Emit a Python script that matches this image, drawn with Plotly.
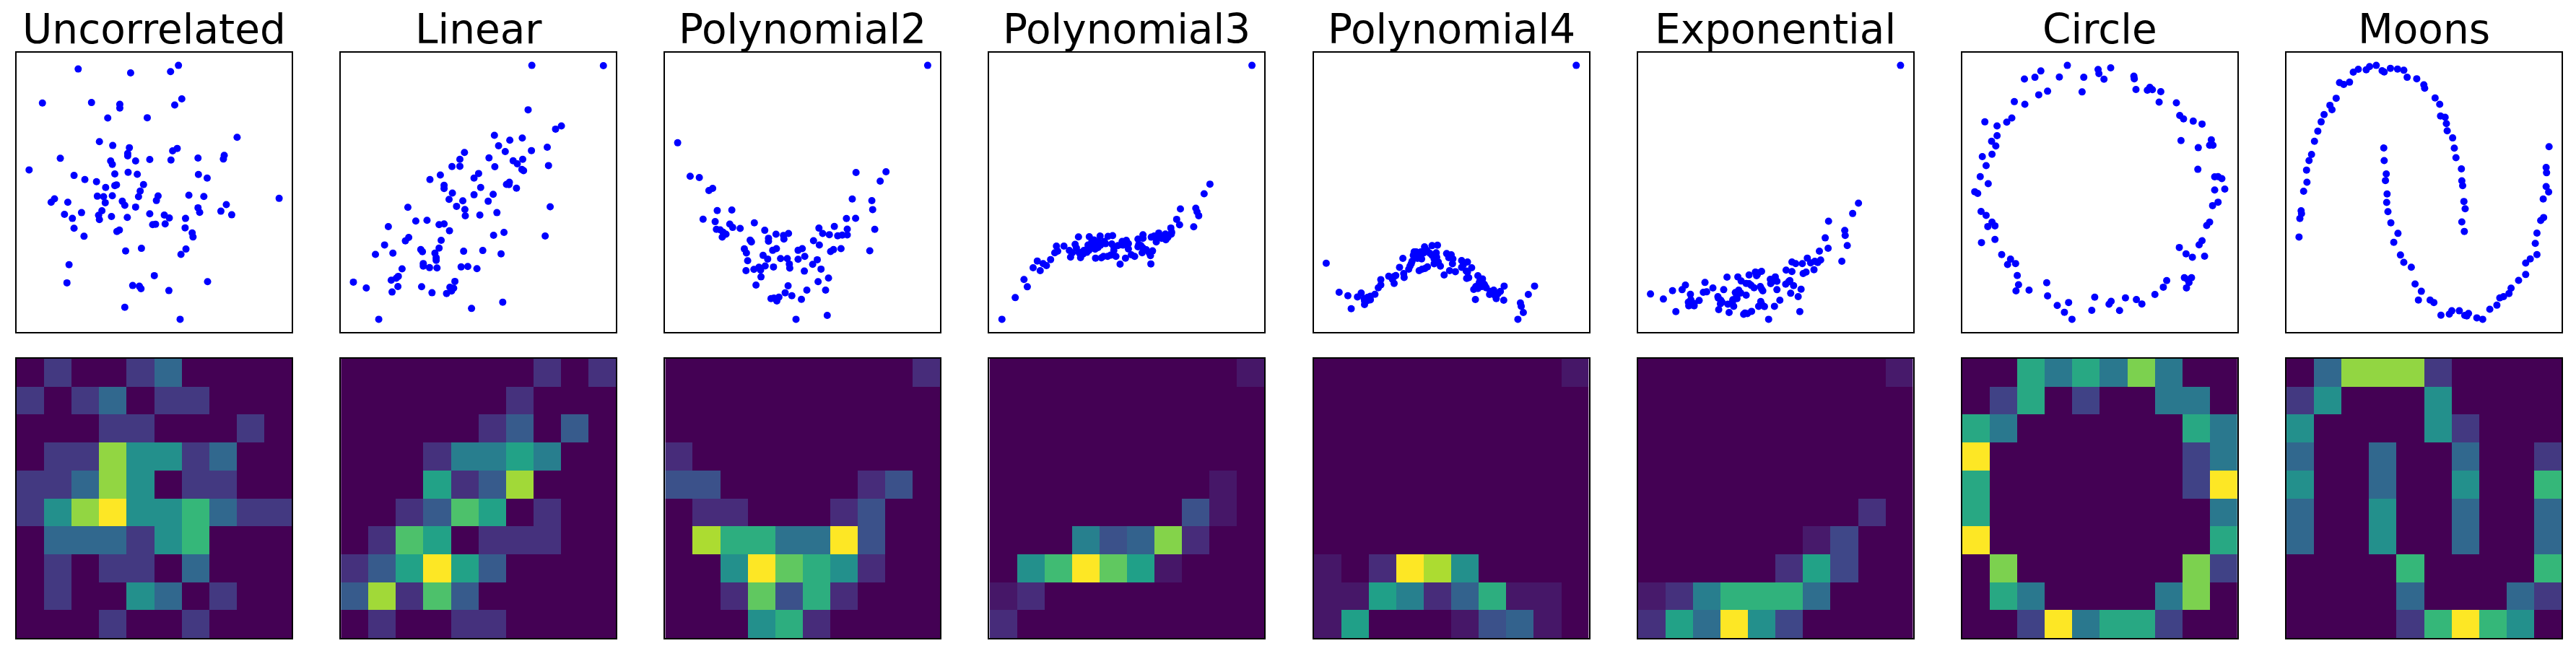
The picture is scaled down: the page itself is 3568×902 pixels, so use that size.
import numpy as np
import plotly.graph_objects as go
from plotly.subplots import make_subplots

names = ["Uncorrelated", "Linear", "Polynomial2", "Polynomial3",
         "Polynomial4", "Exponential", "Circle", "Moons"]

# point readings from the picture, (across, down), arbitrary units
uncorrelated = [(189,288),(315,304),(411,299),(430,273),(103,429),(221,427),(289,434),(289,450),(421,437),(438,412),(260,491),(355,490),(571,571),(240,589),(272,605),(312,614),(427,617),(416,627),(308,638),(308,648),(540,646),(538,661),(146,658),(267,669),(271,683),(327,669),(361,663),(412,665),(477,657),(71,706),(277,723),(309,716),(331,724),(478,725),(499,740),(179,729),(205,746),(233,755),(346,767),(281,768),(277,771),(255,779),(338,794),(672,824),(132,826),(124,840),(164,840),(235,815),(250,817),(271,813),(334,817),(381,814),(377,833),(455,811),(491,816),(295,836),(254,842),(301,853),(327,860),(545,850),(477,863),(481,882),(246,875),(532,877),(558,892),(156,890),(197,883),(238,894),(240,912),(269,899),(307,903),(361,888),(396,893),(408,905),(447,907),(175,907),(179,948),(203,981),(288,955),(282,961),(368,933),(375,931),(398,930),(446,946),(463,967),(465,984),(303,1042),(341,1031),(448,1034),(436,1056),(167,1099),(372,1144),(162,1174),(320,1185),(336,1188),(340,1198),(407,1206),(500,1169),(301,1275),(434,1325)]
linear = [(1283,273),(1455,274),(1274,457),(1354,524),(1340,537),(1193,563),(1230,583),(1260,574),(1203,606),(1320,612),(1282,626),(1219,630),(1121,634),(1180,656),(1110,662),(1261,662),(1238,668),(1248,681),(1091,692),(1110,691),(1194,693),(1323,688),(1259,704),(1263,709),(1155,721),(1063,727),(1144,740),(1038,746),(1229,757),(1222,766),(1228,767),(1072,770),(1072,783),(1160,779),(1246,782),(1092,802),(1190,807),(1144,809),(1084,828),(1117,834),(1178,836),(1102,857),(985,861),(1327,859),(1122,870),(1199,883),(1123,896),(1158,893),(1004,918),(1031,915),(1072,930),(1060,933),(938,941),(1085,958),(1216,965),(1191,977),(1315,980),(987,986),(979,1000),(1065,998),(929,1017),(1060,1030),(1016,1036),(1020,1045),(1119,1043),(1165,1040),(1209,1054),(907,1056),(949,1051),(1050,1051),(1053,1070),(1053,1081),(1022,1094),(1022,1105),(1037,1111),(1055,1112),(1113,1108),(1129,1106),(1151,1115),(971,1116),(962,1147),(957,1155),(945,1163),(1098,1168),(854,1171),(885,1195),(961,1189),(1018,1190),(1086,1192),(1095,1196),(1090,1208),(1078,1218),(947,1212),(1043,1215),(1213,1254),(1138,1280),(915,1325)]
polynomial2 = [(669,273),(69,594),(99,733),(121,738),(153,783),(144,792),(497,717),(569,714),(555,753),(488,827),(535,834),(537,871),(164,875),(199,873),(474,908),(496,907),(130,911),(159,921),(194,931),(201,945),(219,949),(253,926),(162,953),(171,955),(278,957),(445,941),(408,948),(476,952),(542,953),(178,965),(185,973),(176,985),(305,973),(335,970),(323,978),(324,993),(287,990),(287,1002),(417,970),(433,975),(453,980),(464,977),(476,976),(243,998),(246,1005),(395,1000),(409,1018),(229,1034),(234,1051),(297,1040),(306,1033),(358,1040),(368,1033),(461,1033),(436,1045),(443,1037),(530,1042),(274,1061),(285,1076),(237,1083),(316,1074),(332,1074),(374,1065),(358,1077),(404,1079),(393,1098),(279,1105),(264,1110),(299,1109),(337,1097),(338,1114),(252,1119),(268,1122),(233,1124),(269,1150),(373,1126),(413,1118),(431,1155),(406,1170),(257,1184),(334,1187),(379,1205),(424,1205),(327,1216),(343,1228),(293,1240),(300,1238),(312,1234),(307,1250),(366,1243),(353,1326),(428,1310)]
polynomial3 = [(1452,272),(1351,765),(1337,805),(1280,868),(1317,865),(1320,880),(1324,896),(1271,911),(1278,934),(1312,942),(1257,947),(1259,965),(1228,968),(1190,975),(1258,973),(1217,980),(1244,972),(1035,984),(1061,983),(1087,980),(1106,982),(1117,979),(1178,993),(1190,990),(1245,996),(1228,985),(1222,1005),(1072,997),(1067,1005),(1140,1003),(1150,998),(1155,1012),(1000,1022),(1027,1015),(1058,1018),(1079,1010),(1100,1012),(1115,1013),(1142,1018),(1178,1025),(1190,1030),(982,1022),(1120,1025),(1082,1028),(1058,1030),(1048,1040),(1013,1040),(1155,1034),(1198,1037),(978,1050),(985,1043),(1020,1050),(1036,1048),(1055,1048),(1213,1042),(1188,1050),(1208,1062),(1162,1058),(1016,1068),(1040,1070),(1076,1072),(1090,1071),(1112,1060),(1125,1065),(1148,1072),(968,1078),(936,1084),(1135,1097),(1209,1096),(950,1095),(958,1103),(926,1112),(943,1124),(904,1161),(912,1191),(883,1236),(851,1326),(1075,1000),(1088,1018),(1097,1003),(1068,1022),(1046,1055),(1130,1020),(1040,1060),(1105,1065),(1180,1015),(1185,1020),(1210,985),(1235,990),(1250,985),(1240,985),(1060,1040),(1075,1035),(1150,1010),(1095,1065),(1205,1050),(1120,1040),(1085,1005),(1030,1030),(1170,1065)]
polynomial4 = [(666,271),(66,1093),(97,1214),(118,1228),(126,1282),(141,1233),(150,1217),(157,1240),(158,1265),(165,1248),(172,1245),(183,1222),(191,1195),(197,1183),(197,1161),(216,1147),(229,1148),(233,1144),(229,1177),(252,1136),(253,1152),(242,1110),(250,1073),(264,1118),(267,1105),(272,1085),(277,1046),(282,1046),(293,1046),(295,1075),(285,1073),(289,1124),(296,1118),(303,1115),(309,1108),(302,1025),(320,1020),(333,1018),(315,1052),(330,1050),(331,1068),(325,1095),(340,1105),(349,1142),(355,1053),(366,1058),(370,1075),(369,1095),(362,1124),(376,1128),(391,1082),(405,1088),(391,1110),(402,1125),(415,1112),(403,1156),(408,1153),(430,1145),(441,1158),(433,1175),(447,1187),(420,1202),(430,1198),(458,1223),(468,1205),(484,1210),(493,1188),(470,1225),(474,1240),(424,1244),(492,1247),(532,1258),(534,1272),(539,1298),(526,1326),(551,1223),(566,1188),(270,1095),(300,1050),(320,1060),(450,1195),(440,1190),(465,1215),(478,1220),(165,1235),(158,1250),(275,1060),(290,1052),(308,1040),(325,1075),(335,1088),(360,1070),(395,1100),(405,1130),(435,1165),(445,1180),(425,1190),(460,1210),(172,1230),(225,1160)]
exponential = [(1449,272),(1348,844),(1334,887),(1276,919),(1315,957),(1316,978),(1268,988),(1321,1020),(1275,1031),(1254,1043),(1225,1072),(1257,1080),(1243,1085),(1233,1092),(1188,1088),(1197,1095),(1213,1095),(1308,1085),(1241,1120),(1222,1130),(1215,1136),(1174,1122),(1188,1128),(1115,1127),(1104,1132),(1103,1145),(1085,1142),(1032,1151),(1058,1150),(1066,1167),(1136,1160),(1148,1150),(1152,1168),(1137,1178),(1183,1165),(1173,1180),(1192,1186),(979,1173),(932,1184),(924,1203),(901,1207),(998,1196),(1024,1203),(1078,1177),(1085,1178),(1097,1195),(1112,1190),(1118,1208),(1152,1203),(1210,1201),(1185,1218),(1203,1232),(848,1221),(944,1222),(975,1214),(983,1212),(1052,1215),(1065,1217),(1078,1226),(879,1242),(1011,1238),(1017,1247),(939,1255),(965,1248),(953,1260),(940,1270),(953,1270),(1046,1245),(1056,1240),(1034,1263),(1016,1262),(1048,1272),(1113,1252),(1159,1247),(1108,1272),(1122,1273),(1146,1272),(1012,1286),(1037,1298),(909,1294),(1207,1294),(1072,1305),(1081,1302),(1091,1293),(1132,1326),(1010,1232),(1020,1255),(945,1245),(1115,1200),(1140,1170),(1180,1170),(1250,1090),(1060,1205),(1045,1255),(1075,1300),(1115,1262),(1055,1232),(1105,1140),(1090,1185),(1100,1130)]
circle = [(342,278),(445,288),(415,295),(417,312),(429,335),(279,301),(265,327),(240,334),(323,326),(381,327),(500,322),(501,333),(505,377),(538,368),(532,380),(544,378),(564,386),(377,387),(295,384),(274,399),(216,427),(241,438),(560,429),(601,432),(609,484),(618,498),(641,507),(662,519),(210,494),(198,511),(146,510),(175,527),(175,567),(162,590),(172,609),(684,584),(680,606),(688,606),(612,587),(653,616),(163,643),(140,653),(149,690),(652,705),(135,735),(154,764),(692,736),(700,735),(709,743),(122,797),(129,804),(692,790),(716,786),(700,840),(687,854),(137,878),(149,894),(680,922),(673,936),(163,922),(153,940),(170,937),(170,993),(138,1006),(662,998),(655,1015),(608,1026),(624,1052),(639,1066),(668,1062),(186,1055),(207,1074),(219,1092),(200,1096),(223,1141),(620,1150),(637,1150),(628,1158),(631,1170),(578,1162),(625,1192),(570,1189),(226,1179),(220,1204),(251,1201),(293,1171),(295,1225),(550,1219),(407,1230),(480,1233),(506,1240),(519,1258),(446,1247),(441,1259),(345,1252),(318,1264),(335,1292),(400,1284),(466,1285),(353,1321)]
moons = [(1086,278),(1070,283),(1062,296),(1043,294),(1031,306),(1100,300),(1105,305),(1120,290),(1137,293),(1152,298),(1160,327),(1183,333),(1200,358),(1202,372),(1022,347),(998,349),(1008,356),(990,413),(975,442),(980,460),(961,480),(954,510),(946,548),(938,590),(931,644),(925,669),(919,708),(920,758),(912,795),(906,875),(907,887),(903,907),(901,983),(1227,412),(1238,438),(1240,486),(1251,491),(1254,517),(1256,547),(1269,576),(1273,618),(1277,657),(1290,703),(1291,752),(1293,772),(1296,837),(1299,867),(1291,921),(1297,960),(1104,617),(1105,669),(1110,724),(1108,751),(1112,806),(1111,841),(1114,879),(1121,925),(1138,968),(1128,1005),(1144,1057),(1152,1087),(1170,1107),(1179,1176),(1194,1206),(1187,1242),(1215,1242),(1224,1252),(1241,1304),(1261,1300),(1267,1286),(1285,1286),(1298,1305),(1303,1307),(1307,1297),(1327,1315),(1341,1321),(1358,1280),(1375,1263),(1382,1233),(1391,1228),(1404,1215),(1409,1193),(1427,1161),(1444,1137),(1444,1090),(1455,1073),(1471,1055),(1467,1009),(1471,967),(1480,915),(1487,903),(1486,827),(1493,776),(1499,798),(1493,697),(1494,719),(1500,612)]

# 2D histogram counts, 10x10, first row is the top of the picture
counts_uncorrelated = [
    [0,1,0,0,1,2,0,0,0,0],
    [1,0,1,2,0,1,1,0,0,0],
    [0,0,0,1,1,0,0,0,1,0],
    [0,1,1,5,3,3,1,2,0,0],
    [1,1,2,5,3,0,1,1,0,0],
    [1,3,5,6,3,3,4,2,1,1],
    [0,2,2,2,1,3,4,0,0,0],
    [0,1,0,1,1,0,2,0,0,0],
    [0,1,0,0,3,2,0,1,0,0],
    [0,0,0,1,0,0,1,0,0,0]]
counts_linear = [
    [0,0,0,0,0,0,0,1,0,1],
    [0,0,0,0,0,0,1,0,0,0],
    [0,0,0,0,0,1,2,0,2,0],
    [0,0,0,1,3,3,4,3,0,0],
    [0,0,0,4,1,2,6,0,0,0],
    [0,0,1,2,5,4,0,1,0,0],
    [0,1,5,4,0,1,1,1,0,0],
    [1,2,4,7,4,2,0,0,0,0],
    [2,6,1,5,2,0,0,0,0,0],
    [0,1,0,0,1,1,0,0,0,0]]
counts_polynomial2 = [
    [0,0,0,0,0,0,0,0,0,1],
    [0,0,0,0,0,0,0,0,0,0],
    [0,0,0,0,0,0,0,0,0,0],
    [1,0,0,0,0,0,0,0,0,0],
    [2,2,0,0,0,0,0,1,2,0],
    [0,1,1,0,0,0,1,2,0,0],
    [0,7,5,5,3,3,8,2,0,0],
    [0,0,4,8,6,5,4,1,0,0],
    [0,0,1,6,2,5,1,0,0,0],
    [0,0,0,4,5,1,0,0,0,0]]
counts_polynomial3 = [
    [0,0,0,0,0,0,0,0,0,1],
    [0,0,0,0,0,0,0,0,0,0],
    [0,0,0,0,0,0,0,0,0,0],
    [0,0,0,0,0,0,0,0,0,0],
    [0,0,0,0,0,0,0,0,1,0],
    [0,0,0,0,0,0,0,4,1,0],
    [0,0,0,7,4,5,13,2,0,0],
    [0,8,11,16,12,9,1,0,0,0],
    [1,2,0,0,0,0,0,0,0,0],
    [2,0,0,0,0,0,0,0,0,0]]
counts_polynomial4 = [
    [0,0,0,0,0,0,0,0,0,1],
    [0,0,0,0,0,0,0,0,0,0],
    [0,0,0,0,0,0,0,0,0,0],
    [0,0,0,0,0,0,0,0,0,0],
    [0,0,0,0,0,0,0,0,0,0],
    [0,0,0,0,0,0,0,0,0,0],
    [0,0,0,0,0,0,0,0,0,0],
    [1,0,2,16,14,8,0,0,0,0],
    [1,1,9,7,2,5,10,1,1,0],
    [1,9,0,0,0,1,4,5,1,0]]
counts_exponential = [
    [0,0,0,0,0,0,0,0,0,1],
    [0,0,0,0,0,0,0,0,0,0],
    [0,0,0,0,0,0,0,0,0,0],
    [0,0,0,0,0,0,0,0,0,0],
    [0,0,0,0,0,0,0,0,0,0],
    [0,0,0,0,0,0,0,0,2,0],
    [0,0,0,0,0,0,1,3,0,0],
    [0,0,0,0,0,2,8,3,0,0],
    [1,2,6,9,9,9,5,0,0,0],
    [2,8,5,14,7,3,0,0,0,0]]
counts_circle = [
    [0,0,3,2,3,2,4,2,0,0],
    [0,1,3,0,1,0,0,2,2,0],
    [3,2,0,0,0,0,0,0,3,2],
    [5,0,0,0,0,0,0,0,1,2],
    [3,0,0,0,0,0,0,0,1,5],
    [3,0,0,0,0,0,0,0,0,2],
    [5,0,0,0,0,0,0,0,0,3],
    [0,4,0,0,0,0,0,0,4,1],
    [0,3,2,0,0,0,0,2,4,0],
    [0,0,1,5,2,3,3,1,0,0]]
counts_moons = [
    [0,2,5,5,5,1,0,0,0,0],
    [1,3,0,0,0,3,0,0,0,0],
    [3,0,0,0,0,3,1,0,0,0],
    [2,0,0,2,0,0,2,0,0,1],
    [3,0,0,2,0,0,3,0,0,4],
    [2,0,0,3,0,0,2,0,0,2],
    [2,0,0,3,0,0,2,0,0,2],
    [0,0,0,0,4,0,0,0,0,4],
    [0,0,0,0,2,0,0,0,2,1],
    [0,0,0,0,1,4,6,4,3,0]]

points = [uncorrelated, linear, polynomial2, polynomial3,
          polynomial4, exponential, circle, moons]
counts = [counts_uncorrelated, counts_linear, counts_polynomial2, counts_polynomial3,
          counts_polynomial4, counts_exponential, counts_circle, counts_moons]


def scale01(values):
    values = np.array(values, dtype=float)
    return (values - values.min()) / (values.max() - values.min())


fig = make_subplots(rows=2, cols=8, subplot_titles=names + [""] * 8,
                    horizontal_spacing=68.2 / 3525, vertical_spacing=37 / 811)

for i in range(8):
    pts = np.array(points[i])
    fig.add_trace(go.Scatter(x=scale01(pts[:, 0]), y=1 - scale01(pts[:, 1]), mode="markers",
                             marker=dict(color="#0000ff", size=10, line_width=0)),
                  row=1, col=i + 1)
    fig.add_trace(go.Heatmap(z=counts[i], colorscale="Viridis", zmin=0, zmax=np.max(counts[i]),
                             showscale=False),
                  row=2, col=i + 1)
    fig.update_xaxes(range=[-0.05, 1.05], row=1, col=i + 1)
    fig.update_yaxes(range=[-0.05, 1.05], row=1, col=i + 1)
    fig.update_xaxes(range=[-0.5, 9.5], row=2, col=i + 1)
    fig.update_yaxes(range=[9.5, -0.5], row=2, col=i + 1)

fig.update_xaxes(showticklabels=False, ticks="", showgrid=False, zeroline=False,
                 showline=True, mirror=True, linecolor="black", linewidth=2)
fig.update_yaxes(showticklabels=False, ticks="", showgrid=False, zeroline=False,
                 showline=True, mirror=True, linecolor="black", linewidth=2)

fig.update_annotations(font=dict(family="DejaVu Sans", size=56.5, color="black"), yshift=-2)
fig.update_layout(width=3568, height=902, showlegend=False,
                  margin=dict(l=23, r=20, t=73, b=18),
                  paper_bgcolor="white", plot_bgcolor="white")

fig.write_html("out.html", config={"displayModeBar": False},
               post_script="document.body.style.margin='0';")
